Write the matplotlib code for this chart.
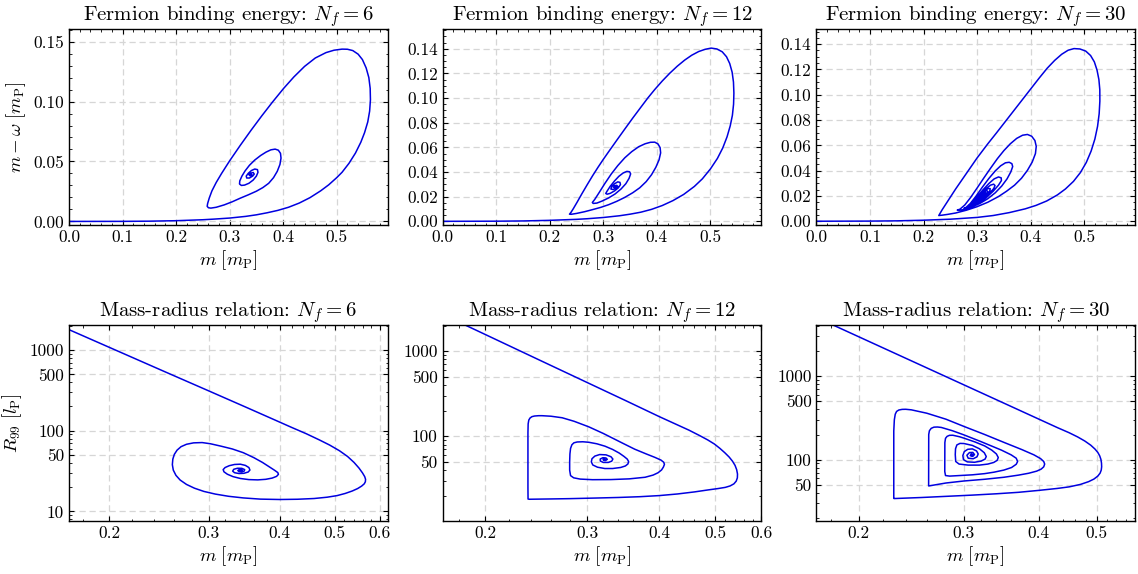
import matplotlib

matplotlib.use("Agg")
import matplotlib.pyplot as plt
import numpy as np
from matplotlib.ticker import (AutoMinorLocator, FixedLocator, FormatStrFormatter,
                               FuncFormatter, LogLocator, MultipleLocator, NullFormatter)

# (m, m - omega) along the solution family, in Planck units
BINDING_NF6 = [
    (0.0, 0.0), (0.1, 0.00005), (0.15, 0.0002), (0.2, 0.0006), (0.25, 0.0014), (0.27, 0.0019),
    (0.3, 0.0028), (0.33, 0.0042), (0.35, 0.0055), (0.37, 0.0072), (0.39, 0.0092),
    (0.41, 0.0118), (0.43, 0.0153), (0.45, 0.0198), (0.47, 0.0255), (0.485, 0.0305),
    (0.5, 0.0365), (0.51, 0.041), (0.523, 0.0485), (0.535, 0.057), (0.545, 0.066),
    (0.552, 0.074), (0.558, 0.083), (0.5615, 0.092), (0.563, 0.1015), (0.5625, 0.111),
    (0.56, 0.12), (0.555, 0.128), (0.548, 0.135), (0.54, 0.1395), (0.53, 0.1425),
    (0.52, 0.1436), (0.51, 0.1437), (0.495, 0.1428), (0.48, 0.1408), (0.46, 0.1363),
    (0.44, 0.1293), (0.42, 0.1205), (0.401, 0.111), (0.38, 0.0995), (0.36, 0.088),
    (0.34, 0.076), (0.32, 0.0635), (0.30, 0.0505), (0.285, 0.040), (0.275, 0.0325),
    (0.267, 0.0255), (0.262, 0.0195), (0.259, 0.015), (0.2581, 0.0126), (0.2605, 0.0114),
    (0.265, 0.0111), (0.275, 0.0118), (0.29, 0.0138), (0.305, 0.0164), (0.32, 0.0194),
    (0.335, 0.0222), (0.35, 0.0252), (0.362, 0.0282), (0.373, 0.0318), (0.382, 0.0365),
    (0.389, 0.0418), (0.394, 0.0475), (0.396, 0.0528), (0.395, 0.0568), (0.391, 0.0594),
    (0.385, 0.0603), (0.377, 0.0597), (0.368, 0.0578), (0.358, 0.055), (0.347, 0.0512),
    (0.337, 0.0468), (0.329, 0.0422), (0.323, 0.0378), (0.319, 0.0338), (0.3185, 0.0312),
    (0.322, 0.0300), (0.328, 0.0303), (0.336, 0.0318), (0.344, 0.0345), (0.35, 0.0378),
    (0.353, 0.041), (0.352, 0.0432), (0.347, 0.0437), (0.341, 0.0425), (0.335, 0.0402),
    (0.331, 0.0378), (0.332, 0.0362), (0.337, 0.0362), (0.343, 0.0378), (0.346, 0.0395),
    (0.344, 0.0408), (0.339, 0.0402), (0.336, 0.039), (0.338, 0.0381), (0.342, 0.0387),
    (0.3405, 0.0392), (0.3396, 0.0388),
]

BINDING_NF12 = [
    (0.0, 0.0), (0.1, 0.0001), (0.15, 0.0003), (0.2, 0.0008), (0.25, 0.0016), (0.27, 0.0021),
    (0.3, 0.0031), (0.33, 0.0045), (0.35, 0.0058), (0.37, 0.0074), (0.39, 0.0097),
    (0.41, 0.0128), (0.43, 0.0168), (0.45, 0.0218), (0.47, 0.0283), (0.485, 0.0345),
    (0.5, 0.0425), (0.513, 0.051), (0.523, 0.0595), (0.531, 0.0685), (0.537, 0.0775),
    (0.541, 0.086), (0.5432, 0.095), (0.5438, 0.104), (0.543, 0.113), (0.5405, 0.121),
    (0.536, 0.128), (0.53, 0.1335), (0.522, 0.1375), (0.512, 0.1398), (0.5013, 0.1405),
    (0.49, 0.1395), (0.478, 0.1377), (0.465, 0.1347), (0.452, 0.1308), (0.438, 0.1258),
    (0.424, 0.1201), (0.41, 0.1138), (0.396, 0.1069), (0.383, 0.100), (0.37, 0.0925),
    (0.355, 0.0838), (0.34, 0.0748), (0.325, 0.0657), (0.31, 0.0565), (0.30, 0.0503),
    (0.29, 0.0438), (0.28, 0.037), (0.27, 0.0298), (0.26, 0.0224), (0.251, 0.0155),
    (0.244, 0.0103), (0.2395, 0.0072), (0.2368, 0.0058),
    (0.24, 0.0057), (0.25, 0.0064), (0.265, 0.0078), (0.28, 0.0095), (0.295, 0.0113),
    (0.31, 0.0135), (0.325, 0.0162), (0.34, 0.0194), (0.355, 0.0232), (0.368, 0.0272),
    (0.38, 0.0322), (0.39, 0.0378), (0.398, 0.0438), (0.404, 0.0498), (0.407, 0.0555),
    (0.406, 0.0598), (0.402, 0.0628), (0.396, 0.0642), (0.388, 0.0641), (0.378, 0.0629),
    (0.366, 0.0605), (0.353, 0.0565), (0.34, 0.0515), (0.327, 0.0452), (0.315, 0.0385),
    (0.303, 0.0308), (0.292, 0.0232), (0.284, 0.0178), (0.2795, 0.0153),
    (0.281, 0.0145), (0.288, 0.0148), (0.298, 0.0165), (0.31, 0.019), (0.322, 0.0222),
    (0.333, 0.0262), (0.342, 0.0305), (0.348, 0.0348), (0.351, 0.0385), (0.349, 0.0402),
    (0.344, 0.0405), (0.337, 0.0392), (0.329, 0.0365), (0.321, 0.0328), (0.313, 0.0285),
    (0.307, 0.0245), (0.3045, 0.0226), (0.307, 0.022), (0.313, 0.0227), (0.321, 0.0247),
    (0.328, 0.0272), (0.332, 0.0298), (0.331, 0.0316), (0.327, 0.032), (0.321, 0.0305),
    (0.316, 0.0282), (0.314, 0.0262), (0.318, 0.0258), (0.324, 0.0268), (0.327, 0.0283),
    (0.325, 0.0292), (0.321, 0.0288), (0.319, 0.0276), (0.3215, 0.0273), (0.3235, 0.028),
    (0.3215, 0.0281),
]

BINDING_NF30 = [
    (0.0, 0.0), (0.1, 0.0001), (0.15, 0.0003), (0.2, 0.0008), (0.25, 0.0016), (0.3, 0.003),
    (0.33, 0.0045), (0.36, 0.0068), (0.39, 0.0098), (0.41, 0.0125), (0.43, 0.016),
    (0.45, 0.0208), (0.465, 0.0255), (0.48, 0.0315), (0.493, 0.0385), (0.504, 0.0465),
    (0.513, 0.0555), (0.52, 0.065), (0.525, 0.075), (0.528, 0.085), (0.5293, 0.095),
    (0.5292, 0.104), (0.5275, 0.112), (0.524, 0.1195), (0.519, 0.126), (0.512, 0.131),
    (0.503, 0.1345), (0.492, 0.1362), (0.481, 0.1365), (0.47, 0.1352), (0.458, 0.132),
    (0.445, 0.1272), (0.431, 0.121), (0.416, 0.1132), (0.40, 0.1045), (0.384, 0.0958),
    (0.368, 0.0871), (0.352, 0.0784), (0.336, 0.0697), (0.32, 0.0612), (0.30, 0.050),
    (0.28, 0.0378), (0.26, 0.0255), (0.245, 0.0158), (0.235, 0.0092), (0.2285, 0.0045),
    (0.235, 0.0048), (0.245, 0.0054), (0.26, 0.0065), (0.28, 0.0087), (0.30, 0.0115),
    (0.32, 0.015), (0.34, 0.0195), (0.355, 0.0237), (0.37, 0.0285), (0.383, 0.034),
    (0.394, 0.0402), (0.403, 0.0468), (0.409, 0.0535), (0.4105, 0.0592), (0.408, 0.0638),
    (0.402, 0.0672), (0.394, 0.0686), (0.385, 0.068), (0.374, 0.0655), (0.362, 0.0612),
    (0.35, 0.0558), (0.338, 0.0495), (0.325, 0.0418), (0.312, 0.0338), (0.3, 0.0262),
    (0.288, 0.0188), (0.277, 0.0128), (0.268, 0.0095), (0.263, 0.0088),
    (0.266, 0.0086), (0.275, 0.0092), (0.29, 0.0112), (0.305, 0.014), (0.32, 0.0178),
    (0.334, 0.0225), (0.346, 0.0278), (0.356, 0.0335), (0.363, 0.039), (0.3665, 0.0432),
    (0.365, 0.0455), (0.36, 0.0466), (0.353, 0.0462), (0.344, 0.0438), (0.334, 0.0398),
    (0.322, 0.0338), (0.31, 0.027), (0.298, 0.0198), (0.287, 0.0138), (0.279, 0.0108),
    (0.2755, 0.0102),
    (0.28, 0.0104), (0.29, 0.0117), (0.303, 0.0145), (0.317, 0.0186), (0.33, 0.0237),
    (0.34, 0.0285), (0.3455, 0.0322), (0.345, 0.0343), (0.34, 0.035), (0.332, 0.0335),
    (0.322, 0.0298), (0.311, 0.0248), (0.3, 0.0192), (0.29, 0.0142), (0.2845, 0.0121),
    (0.29, 0.0128), (0.3, 0.0148), (0.312, 0.018), (0.323, 0.022), (0.331, 0.0258),
    (0.3335, 0.0282), (0.331, 0.0293), (0.325, 0.0285), (0.316, 0.0255), (0.306, 0.0208),
    (0.297, 0.0162), (0.2915, 0.0142),
    (0.298, 0.0152), (0.308, 0.0178), (0.318, 0.0212), (0.324, 0.0242), (0.3245, 0.0258),
    (0.32, 0.0258), (0.312, 0.0232), (0.303, 0.0192), (0.298, 0.0168),
    (0.304, 0.0178), (0.313, 0.0203), (0.3195, 0.023), (0.3185, 0.0243), (0.313, 0.0235),
    (0.306, 0.0205), (0.303, 0.019), (0.308, 0.0198), (0.315, 0.0218), (0.315, 0.0228),
    (0.31, 0.0215), (0.312, 0.0215),
]

# (m, R99) along the same families
RADIUS_NF6 = [
    (0.16, 2165), (0.1706, 1776), (0.2, 1087), (0.25, 546), (0.3, 312), (0.35, 194),
    (0.3933, 135), (0.42, 110), (0.4455, 92), (0.47, 77), (0.49, 66.5), (0.51, 56.5),
    (0.527, 48), (0.541, 40.5), (0.552, 34.5), (0.56, 30), (0.565, 27), (0.567, 25),
    (0.5665, 23.3), (0.564, 22), (0.558, 20.6), (0.549, 19.2), (0.537, 17.9), (0.522, 16.7),
    (0.505, 15.7), (0.485, 15.0), (0.46, 14.45), (0.43, 14.15), (0.4, 14.05), (0.37, 14.2),
    (0.345, 14.7), (0.325, 15.4), (0.308, 16.4), (0.294, 17.7), (0.283, 19.4), (0.274, 21.6),
    (0.267, 24.5), (0.2625, 28), (0.2597, 32.5), (0.2587, 38), (0.2592, 44.5), (0.2608, 51),
    (0.2637, 57.5), (0.268, 63.5), (0.274, 68), (0.282, 70.8), (0.292, 71.4), (0.302, 69),
    (0.315, 64.5), (0.33, 59.5), (0.345, 53.5), (0.36, 46.5), (0.373, 40.5), (0.384, 35.5),
    (0.392, 32.3), (0.397, 30.3), (0.398, 28.8), (0.395, 27.2), (0.388, 25.9), (0.378, 25.0),
    (0.366, 24.6), (0.353, 24.8), (0.341, 25.6), (0.331, 27), (0.3235, 28.9), (0.319, 31.0),
    (0.318, 33.0), (0.3205, 35.0), (0.326, 36.9), (0.333, 38.2), (0.341, 38.5), (0.348, 37.2),
    (0.353, 35.0), (0.3545, 32.6), (0.352, 30.8), (0.346, 29.7), (0.339, 29.5), (0.333, 30.2),
    (0.3305, 31.6), (0.332, 33.3), (0.337, 34.3), (0.343, 34.2), (0.347, 33.0),
    (0.3465, 31.7), (0.343, 31.0), (0.339, 31.2), (0.3375, 32.2), (0.3395, 33.0),
    (0.3428, 32.9), (0.3435, 32.2), (0.3415, 31.9), (0.3408, 32.4),
]

RADIUS_NF12 = [
    (0.17, 2648), (0.1846, 2034), (0.2, 1574), (0.25, 769), (0.3, 429), (0.35, 262),
    (0.4, 170), (0.45, 118), (0.47, 101.5), (0.485, 90.5), (0.498, 81), (0.509, 72),
    (0.519, 64), (0.528, 57), (0.535, 51), (0.5405, 45.5), (0.544, 40.5), (0.5458, 36),
    (0.5455, 32.5), (0.543, 29.7), (0.538, 27.6), (0.53, 26.1), (0.52, 25.1), (0.505, 24.3),
    (0.485, 23.4), (0.46, 22.2), (0.43, 21), (0.4, 20.1), (0.37, 19.5), (0.34, 19.1),
    (0.31, 18.8), (0.28, 18.5), (0.26, 18.35), (0.245, 18.25), (0.2385, 18.2),
    (0.2373, 18.3), (0.2372, 25), (0.2372, 40), (0.2372, 70), (0.2372, 110), (0.2374, 140),
    (0.238, 155), (0.2392, 164), (0.241, 170), (0.2435, 173), (0.2475, 174.5),
    (0.2508, 174.5), (0.26, 172), (0.2718, 165), (0.285, 150), (0.3022, 129), (0.32, 108),
    (0.3456, 83), (0.3627, 70.5), (0.3797, 62), (0.393, 56.5), (0.4026, 52.5), (0.407, 49.5),
    (0.4082, 46.8), (0.4065, 43.5), (0.4035, 40.2), (0.398, 37.3), (0.3902, 35.0),
    (0.378, 33.0), (0.3549, 31.6), (0.33, 31.0), (0.3066, 30.9), (0.292, 31.4),
    (0.2845, 32.5), (0.281, 34.5), (0.2800, 40), (0.2800, 50), (0.2803, 62), (0.281, 72),
    (0.2825, 79.5), (0.2848, 83.8), (0.2885, 85.7), (0.295, 86.2), (0.3022, 85),
    (0.312, 81.6), (0.3222, 76.5), (0.3322, 70), (0.341, 63.5), (0.3475, 58), (0.352, 54),
    (0.354, 50.5), (0.353, 47.3), (0.3495, 44.8), (0.343, 43.0), (0.3322, 41.8),
    (0.322, 41.8), (0.3128, 43.3), (0.307, 46), (0.3052, 50), (0.306, 54.5), (0.3095, 58.5),
    (0.3155, 61), (0.3236, 60.5), (0.33, 57.5), (0.3325, 54), (0.331, 51), (0.3265, 49.3),
    (0.32, 49.3), (0.3163, 51.2), (0.3162, 54), (0.3195, 56), (0.3235, 55.6), (0.3252, 53.6),
    (0.3232, 52), (0.3205, 52.2), (0.3198, 53.5), (0.3218, 54), (0.3222, 53),
]

RADIUS_NF30 = [
    (0.17, 5200), (0.1812, 4100), (0.2, 2968), (0.25, 1432), (0.3, 788), (0.35, 476),
    (0.4, 308), (0.43, 242), (0.45, 210), (0.465, 187), (0.478, 167), (0.489, 149),
    (0.497, 134), (0.5025, 122), (0.5062, 111), (0.5085, 101), (0.5097, 91), (0.51, 82),
    (0.5092, 75), (0.507, 69), (0.5025, 63.5), (0.495, 58.5), (0.485, 54.5), (0.47, 50.5),
    (0.45, 47.2), (0.43, 45.2), (0.4, 42.8), (0.37, 40.6), (0.34, 39), (0.31, 37.6),
    (0.28, 36.3), (0.255, 35.2), (0.238, 34.5), (0.2295, 34.2), (0.229, 34.3), (0.229, 60),
    (0.229, 120), (0.229, 220), (0.2295, 300), (0.2303, 350), (0.2315, 378), (0.2335, 393),
    (0.2365, 400), (0.2398, 401), (0.245, 395), (0.26, 360), (0.28, 305), (0.3, 250),
    (0.325, 200), (0.35, 161), (0.375, 132), (0.393, 114), (0.403, 103), (0.408, 95),
    (0.4095, 88.5), (0.408, 82), (0.404, 77), (0.397, 72.8), (0.385, 68.7), (0.37, 65.2),
    (0.35, 61.5), (0.325, 58.2), (0.3, 55.5), (0.28, 52.5), (0.268, 49.8), (0.262, 48.4),
    (0.2619, 50), (0.2619, 80), (0.2619, 150), (0.262, 200), (0.2627, 222), (0.2645, 237),
    (0.2673, 245), (0.271, 246), (0.275, 243), (0.287, 222), (0.3, 198), (0.32, 165),
    (0.3467, 130), (0.36, 114), (0.367, 104), (0.369, 95), (0.367, 88), (0.3605, 80.5),
    (0.35, 75), (0.337, 70.8), (0.325, 68), (0.31, 65.8), (0.295, 64.5), (0.284, 63.5),
    (0.2795, 64.5), (0.2787, 72), (0.2787, 110), (0.2788, 160), (0.2795, 180),
    (0.2812, 190), (0.2838, 195.5), (0.2875, 196), (0.295, 188), (0.3, 181), (0.313, 163),
    (0.325, 146), (0.334, 130), (0.34, 117), (0.3425, 106), (0.341, 98), (0.3365, 92.5),
    (0.329, 88.5), (0.3185, 86), (0.305, 86), (0.2945, 88.5), (0.2907, 95), (0.2902, 115),
    (0.2905, 135), (0.292, 150), (0.2955, 156.5), (0.3, 156), (0.31, 148), (0.3185, 135),
    (0.3245, 121), (0.327, 109), (0.3255, 101.5), (0.3205, 96), (0.3125, 93), (0.304, 94),
    (0.2995, 100), (0.2988, 112), (0.3005, 125), (0.3045, 133), (0.31, 134.5), (0.315, 127),
    (0.317, 117), (0.3155, 108), (0.311, 102.5), (0.305, 104), (0.3035, 113),
    (0.3065, 121.5), (0.3105, 122), (0.3125, 115), (0.3105, 109.5), (0.3075, 111.5),
    (0.3085, 117), (0.3105, 115), (0.3094, 112.7),
]

FLAVOURS = [6, 12, 30]
BINDING_CURVES = [BINDING_NF6, BINDING_NF12, BINDING_NF30]
RADIUS_CURVES = [RADIUS_NF6, RADIUS_NF12, RADIUS_NF30]

BINDING_YLIMS = [(-0.003, 0.1605), (-0.003, 0.156), (-0.003, 0.152)]
BINDING_YSTEPS = [0.05, 0.02, 0.02]
RADIUS_XLIMS = [(0.17, 0.62), (0.169, 0.60), (0.17, 0.58)]
RADIUS_YLIMS = [(7.6, 2050), (10.1, 2030), (18.4, 4100)]
M_TICKS = [0.2, 0.3, 0.4, 0.5, 0.6]
R_TICKS = [10, 50, 100, 500, 1000]

LINE_COLOR = "#0000e0"

plt.rcParams.update({
    "font.family": "serif",
    "font.serif": ["cmr10"],
    "mathtext.fontset": "cm",
    "axes.formatter.use_mathtext": True,
    "axes.unicode_minus": False,
    "font.size": 12,
    "axes.linewidth": 1.0,
})


def style_axes(ax):
    ax.grid(True, which="major", color="#d6d6d6", linestyle=(0, (5, 3)), linewidth=0.9)
    ax.set_axisbelow(True)
    ax.tick_params(which="both", direction="in", top=True, right=True, labelsize=12.5)
    ax.tick_params(which="major", length=3.5, width=0.8)
    ax.tick_params(which="minor", length=1.8, width=0.6)


fig, axes = plt.subplots(2, 3, figsize=(11.38, 5.74), dpi=100)
fig.subplots_adjust(left=0.0606, right=0.9974, bottom=0.0923, top=0.9495,
                    wspace=0.173, hspace=0.51)

for ax, nf, curve, ylim, ystep in zip(axes[0], FLAVOURS, BINDING_CURVES,
                                      BINDING_YLIMS, BINDING_YSTEPS):
    m, e = np.array(curve).T
    ax.plot(m, e, color=LINE_COLOR, lw=1.1)
    ax.set_xlim(0, 0.595)
    ax.set_ylim(*ylim)
    ax.xaxis.set_major_locator(MultipleLocator(0.1))
    ax.yaxis.set_major_locator(MultipleLocator(ystep))
    ax.xaxis.set_minor_locator(AutoMinorLocator())
    ax.yaxis.set_minor_locator(AutoMinorLocator())
    ax.xaxis.set_major_formatter(FormatStrFormatter("%.1f"))
    ax.yaxis.set_major_formatter(FormatStrFormatter("%.2f"))
    style_axes(ax)
    ax.set_title(rf"Fermion binding energy: $N_f = {nf}$", fontsize=15, pad=4)
    ax.set_xlabel(r"$m\ [m_\mathrm{P}]$", fontsize=13.5, labelpad=2)

axes[0, 0].set_ylabel(r"$m - \omega\ [m_\mathrm{P}]$", fontsize=13.5)

for ax, nf, curve, xlim, ylim in zip(axes[1], FLAVOURS, RADIUS_CURVES,
                                     RADIUS_XLIMS, RADIUS_YLIMS):
    m, r = np.array(curve).T
    ax.plot(m, r, color=LINE_COLOR, lw=1.1)
    ax.set_xscale("log")
    ax.set_yscale("log")
    ax.xaxis.set_major_locator(FixedLocator(M_TICKS))
    ax.xaxis.set_major_formatter(FuncFormatter(lambda v, _: f"{v:.1f}"))
    ax.xaxis.set_minor_locator(MultipleLocator(0.02))
    ax.xaxis.set_minor_formatter(NullFormatter())
    ax.yaxis.set_major_locator(FixedLocator(R_TICKS))
    ax.yaxis.set_major_formatter(FuncFormatter(lambda v, _: f"{v:g}"))
    ax.yaxis.set_minor_locator(LogLocator(subs=np.arange(2, 10)))
    ax.yaxis.set_minor_formatter(NullFormatter())
    ax.set_xlim(*xlim)
    ax.set_ylim(*ylim)
    style_axes(ax)
    ax.set_title(rf"Mass-radius relation: $N_f = {nf}$", fontsize=15, pad=4)
    ax.set_xlabel(r"$m\ [m_\mathrm{P}]$", fontsize=13.5, labelpad=2)

axes[1, 0].set_ylabel(r"$R_{99}\ [l_\mathrm{P}]$", fontsize=13.5)

fig.savefig("out.png", dpi=100)
